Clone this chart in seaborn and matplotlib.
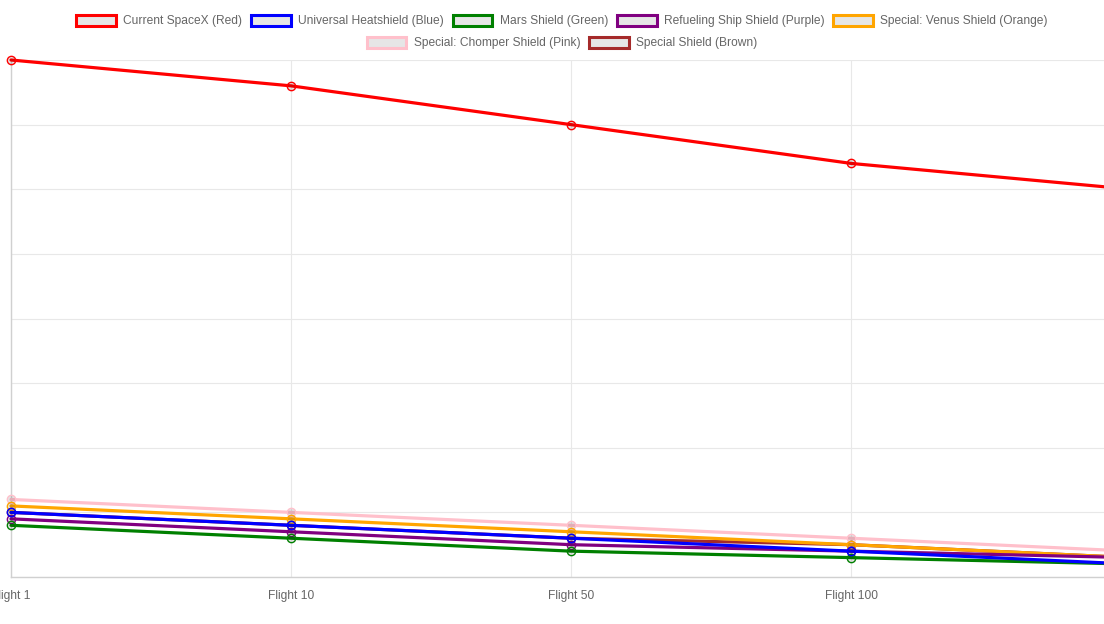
import matplotlib
matplotlib.use("Agg")
import matplotlib.pyplot as plt
from matplotlib.patches import Patch
import seaborn as sns
import pandas as pd

flights = ["Flight 1", "Flight 10", "Flight 50", "Flight 100", "Flight 200"]
series_names = [
    "Current SpaceX (Red)",
    "Universal Heatshield (Blue)",
    "Mars Shield (Green)",
    "Refueling Ship Shield (Purple)",
    "Special: Venus Shield (Orange)",
    "Special: Chomper Shield (Pink)",
    "Special Shield (Brown)",
]
red_vals = [40, 38, 35, 32, 30]
blue_vals = [5, 4, 3, 2, 1]
green_vals = [4, 3, 2, 1.5, 1]
purple_vals = [4.5, 3.5, 2.5, 2, 1.5]
orange_vals = [5.5, 4.5, 3.5, 2.5, 1.5]
pink_vals = [6, 5, 4, 3, 2]
brown_vals = [5, 4, 3, 2.5, 1.5]
colors = ["red", "blue", "green", "purple", "orange", "pink", "brown"]
all_vals = [red_vals, blue_vals, green_vals, purple_vals, orange_vals, pink_vals, brown_vals]

sns.set_theme(style="white")
plt.rcParams["font.family"] = ["Liberation Sans", "DejaVu Sans"]

W, H = 1104, 624
fig = plt.figure(figsize=(W / 100, H / 100), dpi=100)
left_px, right_px, top_px, bottom_px = 11, 1131, 60, 577
ax = fig.add_axes([left_px / W, (H - bottom_px) / H, (right_px - left_px) / W, (bottom_px - top_px) / H])

n = len(series_names)
for i, (name, vals, c) in enumerate(zip(series_names, all_vals, colors)):
    df = pd.DataFrame({"x": list(range(len(flights))), "y": vals})
    sns.lineplot(data=df, x="x", y="y", ax=ax, color=c, linewidth=2.3, legend=False,
                 marker="o", markersize=6, markerfacecolor=(0, 0, 0, 0.1),
                 markeredgecolor=c, markeredgewidth=1, zorder=10 + (n - i), clip_on=False)

ax.set_xlim(0, len(flights) - 1)
ax.set_ylim(0, 40)
ax.set_yticks(range(0, 41, 5))
ax.set_xticks(range(len(flights)))
ax.set_xticklabels(flights)
ax.get_xticklabels()[-1].set_visible(False)
ax.set_xlabel("")
ax.set_ylabel("")
ax.tick_params(axis="y", labelleft=False, length=5, color="#e8e8e8", width=0.8)
ax.tick_params(axis="x", length=7, color="#e8e8e8", width=0.8, labelsize=8.64, labelcolor="#666666", pad=2)
ax.grid(True, color="#e8e8e8", linewidth=0.8)
ax.set_axisbelow(True)
for s in ["top", "right"]:
    ax.spines[s].set_visible(False)
for s in ["left", "bottom"]:
    ax.spines[s].set_color("#d0d0d0")
    ax.spines[s].set_linewidth(1)

def mk(c):
    return Patch(facecolor="#e6e6e6", edgecolor=c, linewidth=2.2)

common = dict(frameon=False, fontsize=8.64, handlelength=3.3, handleheight=1.0,
              handletextpad=0.6, columnspacing=0.75, labelcolor="#666666", borderaxespad=0, borderpad=0)
leg1 = fig.legend([mk(c) for c in colors[:5]], series_names[:5], loc="center",
                  bbox_to_anchor=(562 / W, 1 - 21 / H), ncol=5, **common)
leg2 = fig.legend([mk(c) for c in colors[5:]], series_names[5:], loc="center",
                  bbox_to_anchor=(562 / W, 1 - 43 / H), ncol=2, **common)

fig.savefig("out.png", dpi=100)
